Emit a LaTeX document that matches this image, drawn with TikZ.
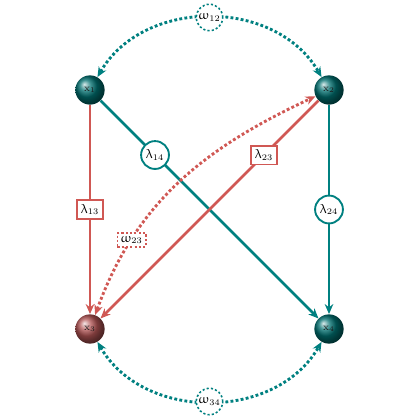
\documentclass[tikz,border=0pt]{standalone}
\usepackage{upgreek}
\usetikzlibrary{arrows.meta}
\definecolor{tl}{RGB}{0,128,128}
\definecolor{tlball}{RGB}{0,112,112}
\definecolor{rd}{RGB}{208,88,84}
\definecolor{rdball}{RGB}{178,84,84}
\tikzset{
  ball/.style={circle,minimum size=20.5pt,inner sep=0pt,shading=ball,font=\scriptsize,text=black!90},
  tlball/.style={ball,ball color=tlball},
  rdball/.style={ball,ball color=rdball},
  tlline/.style={draw=tl,line width=1.9pt,-{Stealth[length=7pt,width=6pt]}},
  rdline/.style={draw=rd,line width=1.9pt,-{Stealth[length=7pt,width=6pt]}},
  tldot/.style={draw=tl,line width=2pt,dash pattern=on 2pt off 1.6pt,{Stealth[length=7pt,width=6pt]}-{Stealth[length=7pt,width=6pt]}},
  rddot/.style={draw=rd,line width=2pt,dash pattern=on 2pt off 1.6pt,{Stealth[length=7pt,width=6pt]}-{Stealth[length=7pt,width=6pt]}},
  lamc/.style={circle,draw=tl,fill=white,line width=1.3pt,inner sep=0.5pt,minimum size=19.5pt,text=black,solid,font=\small},
  lamb/.style={rectangle,draw=rd,fill=white,line width=1.3pt,inner xsep=2.6pt,inner ysep=3pt,text=black,solid,font=\small},
  omc/.style={circle,draw=tl,fill=white,line width=1.1pt,dash pattern=on 1.5pt off 1.5pt,inner sep=0.5pt,minimum size=18.5pt,text=black,font=\small},
  omb/.style={rectangle,draw=rd,fill=white,line width=1.1pt,dash pattern=on 1.5pt off 1.5pt,inner sep=2.2pt,text=black,font=\small},
}
\begin{document}
\begin{tikzpicture}[x=0.7pt,y=0.7pt]
\useasboundingbox (0,0) rectangle (420,420);
\node[tlball] (x1) at (90,330) {$\mathrm{x}_1$};
\node[tlball] (x2) at (329,330) {$\mathrm{x}_2$};
\node[rdball] (x3) at (90,91) {$\mathrm{x}_3$};
\node[tlball] (x4) at (329,91) {$\mathrm{x}_4$};
\draw[tlline] (x1) -- node[lamc,pos=0.25] (l14) {$\uplambda_{14}$} (x4);
\draw[tlline] (x2) -- node[lamc,pos=0.5] (l24) {$\uplambda_{24}$} (x4);
\draw[rddot] (x3) to[out=70,in=205] node[omb,pos=0.25] (w23) {$\upomega_{23}$} (x2);
\draw[rdline] (x2) -- node[lamb,pos=0.25] (l23) {$\uplambda_{23}$} (x3);
\draw[rdline] (x1) -- node[lamb,pos=0.5] (l13) {$\uplambda_{13}$} (x3);
\draw[tldot] (x1) to[out=60,in=120,looseness=1.05] node[omc,pos=0.5] (w12) {$\upomega_{12}$} (x2);
\draw[tldot] (x3) to[out=-60,in=-120,looseness=1.05] node[omc,pos=0.5] (w34) {$\upomega_{34}$} (x4);
\end{tikzpicture}
\end{document}
